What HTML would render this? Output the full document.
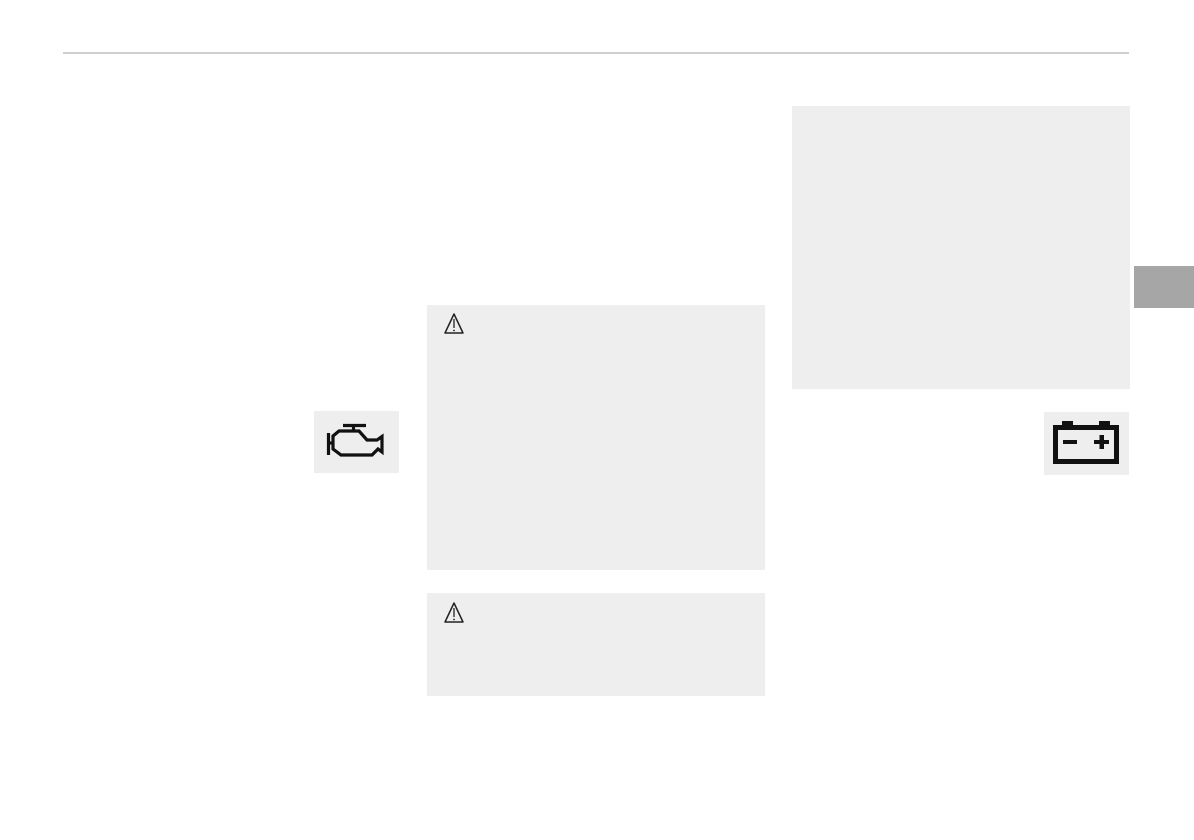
<!DOCTYPE html>
<html><head><meta charset="utf-8"><style>
html,body{margin:0;padding:0;background:#fff;}
body{width:1194px;height:840px;position:relative;overflow:hidden;font-family:"Liberation Sans",sans-serif;}
.b{position:absolute;background:#eeeeee;}
</style></head><body>
<div style="position:absolute;left:63px;top:52px;width:1066px;height:2px;background:#cfcfcf"></div>
<div class="b" style="left:427px;top:305px;width:338px;height:265px"></div>
<div class="b" style="left:427px;top:593px;width:338px;height:103px"></div>
<div class="b" style="left:792px;top:106px;width:338px;height:283px"></div>
<div class="b" style="left:314px;top:411px;width:85px;height:62px"></div>
<div class="b" style="left:1044px;top:412px;width:85px;height:63px"></div>
<div style="position:absolute;left:1134px;top:266px;width:60px;height:42px;background:#a6a6a6"></div>
<svg width="1194" height="840" style="position:absolute;left:0;top:0">
 <g fill="none" stroke="#222" stroke-width="1.5" stroke-linejoin="round">
  <path d="M454 314 L463 333 L445 333 Z"/>
  <path d="M454 603 L463 622 L445 622 Z"/>
 </g>
 <g stroke="#222" stroke-width="1.3">
  <line x1="454" y1="319" x2="454" y2="328"/>
  <line x1="454" y1="608" x2="454" y2="617"/>
 </g>
 <circle cx="454" cy="330.5" r="0.9" fill="#222"/>
 <circle cx="454" cy="619.5" r="0.9" fill="#222"/>
 <!-- engine -->
 <g fill="none" stroke="#111" stroke-width="3.2" stroke-linejoin="miter">
  <line x1="343" y1="425.5" x2="366" y2="425.5"/>
  <line x1="353.5" y1="425.5" x2="353.5" y2="431"/>
  <path d="M333 436 L339 431 L359 431 L367 440 L377 440 L382 436.5 L382 452 L378 449 L372 455 L341 455 L333 449 Z"/>
  <line x1="328" y1="443" x2="333" y2="443"/>
  <line x1="328.5" y1="433" x2="328.5" y2="455"/>
 </g>
 <!-- battery -->
 <g fill="#111">
  <rect x="1062" y="421" width="11" height="5"/>
  <rect x="1099" y="421" width="11" height="5"/>
  <rect x="1063" y="440" width="14" height="4"/>
  <rect x="1094" y="440" width="15" height="4"/>
  <rect x="1099.5" y="435" width="4.5" height="14"/>
 </g>
 <rect x="1055.5" y="427.5" width="61" height="34" fill="none" stroke="#111" stroke-width="5"/>
</svg>
</body></html>
